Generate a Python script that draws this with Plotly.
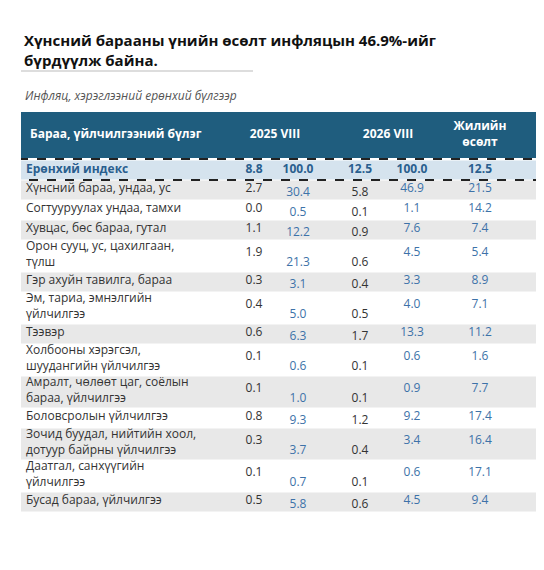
import plotly.graph_objects as go

categories = [
    "<b>Ерөнхий индекс</b>",
    "Хүнсний бараа, ундаа, ус",
    "Согтууруулах ундаа, тамхи",
    "Хувцас, бөс бараа, гутал",
    "Орон сууц, ус, цахилгаан,<br>түлш",
    "Гэр ахуйн тавилга, бараа",
    "Эм, тариа, эмнэлгийн<br>үйлчилгээ",
    "Тээвэр",
    "Холбооны хэрэгсэл,<br>шуудангийн үйлчилгээ",
    "Амралт, чөлөөт цаг, соёлын<br>бараа, үйлчилгээ",
    "Боловсролын үйлчилгээ",
    "Зочид буудал, нийтийн хоол,<br>дотуур байрны үйлчилгээ",
    "Даатгал, санхүүгийн<br>үйлчилгээ",
    "Бусад бараа, үйлчилгээ",
]
contrib_2025 = [8.8, 2.7, 0.0, 1.1, 1.9, 0.3, 0.4, 0.6, 0.1, 0.1, 0.8, 0.3, 0.1, 0.5]
share_2025 = [100.0, 30.4, 0.5, 12.2, 21.3, 3.1, 5.0, 6.3, 0.6, 1.0, 9.3, 3.7, 0.7, 5.8]
contrib_2026 = [12.5, 5.8, 0.1, 0.9, 0.6, 0.4, 0.5, 1.7, 0.1, 0.1, 1.2, 0.4, 0.1, 0.6]
share_2026 = [100.0, 46.9, 1.1, 7.6, 4.5, 3.3, 4.0, 13.3, 0.6, 0.9, 9.2, 3.4, 0.6, 4.5]
growth = [12.5, 21.5, 14.2, 7.4, 5.4, 8.9, 7.1, 11.2, 1.6, 7.7, 17.4, 16.4, 17.1, 9.4]
headers = ["<b>Бараа, үйлчилгээний бүлэг</b>", "<b>2025 VIII</b>", "<b>2026 VIII</b>",
           "<b>Жилийн<br>өсөлт</b>"]

W, H = 544, 570
X0, X1 = 13, 540
FONT = "Open Sans"
n = len(categories)

# row geometry (1 unit = 1 px on the y axis)
heights = [32 if "<br>" in c else 20 for c in categories]
heights[0] = 20
tops = [0]
for h in heights[:-1]:
    tops.append(tops[-1] + h)
centers = [t + h / 2 for t, h in zip(tops, heights)]
total = tops[-1] + heights[-1]
HEAD = 48

fills = ["#d5e3ee"] + ["#e8e8e8" if i % 2 == 0 else "white" for i in range(n - 1)]

fig = go.Figure()
# header band
fig.add_trace(go.Bar(orientation="h", y=[-HEAD / 2 - 1], x=[X1 - X0], base=[X0],
                     width=[46], marker=dict(color="#1f5d7e", line_width=0),
                     hoverinfo="skip"))
# row bands
fig.add_trace(go.Bar(orientation="h", y=centers, x=[X1 - X0] * n, base=[X0] * n,
                     width=[h - 1 for h in heights],
                     marker=dict(color=fills, line_width=0), hoverinfo="skip"))

def fmt(vals):
    return [f"<b>{v:.1f}</b>" if i == 0 else f"{v:.1f}" for i, v in enumerate(vals)]

def ypos(shift_single, shift_double):
    return [c + (0 if i == 0 else (shift_double if h > 20 else shift_single))
            for i, (c, h) in enumerate(zip(centers, heights))]

black, blue, idx = "#333333", "#3d72a8", "#2a5f8f"
cols = [
    (246, contrib_2025, black, ypos(-1, -3)),
    (290, share_2025, blue, ypos(3, 7)),
    (352, contrib_2026, black, ypos(3, 7)),
    (404, share_2026, blue, ypos(-1, -3)),
    (472, growth, blue, ypos(-1, -3)),
]
for xc, vals, color, ys in cols:
    fig.add_trace(go.Scatter(x=[xc] * n, y=ys, mode="text", text=fmt(vals),
                             textfont=dict(size=12, family=FONT,
                                           color=[idx] + [color] * (n - 1)),
                             hoverinfo="skip"))
fig.add_trace(go.Scatter(x=[18] * n, y=[c if i == 0 else c - 1 for i, c in enumerate(centers)],
                         mode="text", text=categories, textposition="middle right",
                         textfont=dict(size=12, family=FONT, color=[idx] + ["#333333"] * (n - 1)),
                         hoverinfo="skip"))
# header texts
fig.add_trace(go.Scatter(x=[22, 267, 380, 472], y=[-HEAD / 2 - 1] * 4, mode="text",
                         text=headers, textposition=["middle right", "middle center",
                                                     "middle center", "middle center"],
                         textfont=dict(size=12, family=FONT, color="white"),
                         hoverinfo="skip"))

fig.add_shape(type="rect", x0=X0 - 2, x1=X1 + 1, y0=-1, y1=20,
              line=dict(color="#222222", width=2, dash="dash"))
fig.add_shape(type="line", xref="paper", yref="paper",
              x0=0, x1=(245 - X0) / (X1 - X0), y0=1 + (104 - 63) / (total + HEAD),
              y1=1 + (104 - 63) / (total + HEAD), line=dict(color="#dddddd", width=2))

fig.add_annotation(x=14 / W, y=1 - 20 / H, xref="paper", yref="container" if False else "paper",
                   xanchor="left", yanchor="top", align="left", showarrow=False,
                   text="<b>Хүнсний барааны үнийн өсөлт инфляцын 46.9%-ийг<br>бүрдүүлж байна.</b>",
                   font=dict(size=15, color="#111111", family=FONT))
fig.add_annotation(x=15 / W, y=1 - 77 / H, xref="paper", yref="paper", xanchor="left",
                   showarrow=False, text="<i>Инфляц, хэрэглээний ерөнхий бүлгээр</i>",
                   font=dict(size=12, color="#555555", family=FONT))

fig.update_xaxes(range=[X0, X1], visible=False, fixedrange=True)
fig.update_yaxes(range=[total, -HEAD], visible=False, fixedrange=True)
fig.update_layout(width=W, height=H, showlegend=False, barmode="overlay",
                  margin=dict(l=X0, r=W - X1, t=104, b=H - 104 - HEAD - total),
                  paper_bgcolor="white", plot_bgcolor="white")
# annotations above use figure-height paper fractions; convert to plot-area paper
ph = total + HEAD
for a in fig.layout.annotations:
    py = (1 - a.y) * H  # pixel from top
    a.y = 1 + (104 - py) / ph
    a.x = (a.x * W - X0) / (X1 - X0)
fig.write_html("out.html")
